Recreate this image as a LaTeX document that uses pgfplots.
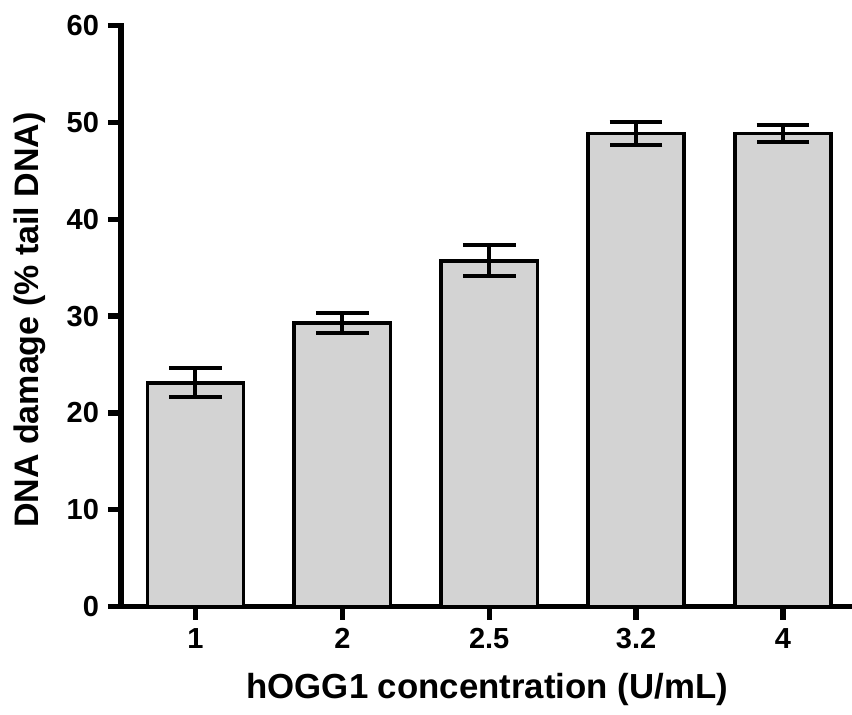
\documentclass[border=0pt]{standalone}
\usepackage{pgfplots}
\pgfplotsset{compat=1.18}
\usepackage{fontspec}
\setmainfont{Liberation Sans}

\definecolor{barfill}{HTML}{D3D3D3}

% hOGG1 concentration (U/mL), mean tail DNA (%), error
\begin{document}
\begin{tikzpicture}
\useasboundingbox (-60.5pt,-54.2pt) rectangle (365.5pt,303.3pt);
\begin{axis}[
  scale only axis,
  width=365.5pt, height=290.5pt,
  xmin=-0.507, xmax=4.47,
  ymin=0, ymax=60,
  ytick={0,10,...,60},
  xtick=data,
  xticklabels={1,2,2.5,3.2,4},
  axis x line*=bottom,
  axis y line*=left,
  axis line style={line width=2.8pt, line cap=rect},
  tick style={line width=2.6pt, black},
  major tick length=6.5pt,
  tick align=outside,
  /pgf/number format/assume math mode=true,
  ticklabel style={font=\bfseries\fontsize{14.5}{16}\selectfont},
  yticklabel style={xshift=-1pt},
  xticklabel style={yshift=-1pt},
  xlabel={hOGG1 concentration (U/mL)},
  ylabel={DNA damage (\% tail DNA)},
  xlabel style={font=\bfseries\fontsize{17.4}{20}\selectfont,
    at={(axis description cs:0.501,-0.143)}, anchor=center},
  ylabel style={font=\bfseries\fontsize{17}{20}\selectfont,
    at={(axis description cs:-0.125,0.493)}, anchor=center},
  clip=false,
]
\addplot[
  ybar, bar width=0.655, bar shift=0pt,
  fill=barfill, draw=black, line width=1.8pt,
  error bars/.cd,
    y dir=both, y explicit,
    error mark options={rotate=90, mark size=13.2pt, line width=2pt, black},
    error bar style={line width=2pt, black},
] table[x=x, y=y, y error=e] {
x y e
0 23.1 1.5
1 29.3 1.0
2 35.7 1.6
3 48.85 1.15
4 48.85 0.9
};
\end{axis}
\end{tikzpicture}
\end{document}
